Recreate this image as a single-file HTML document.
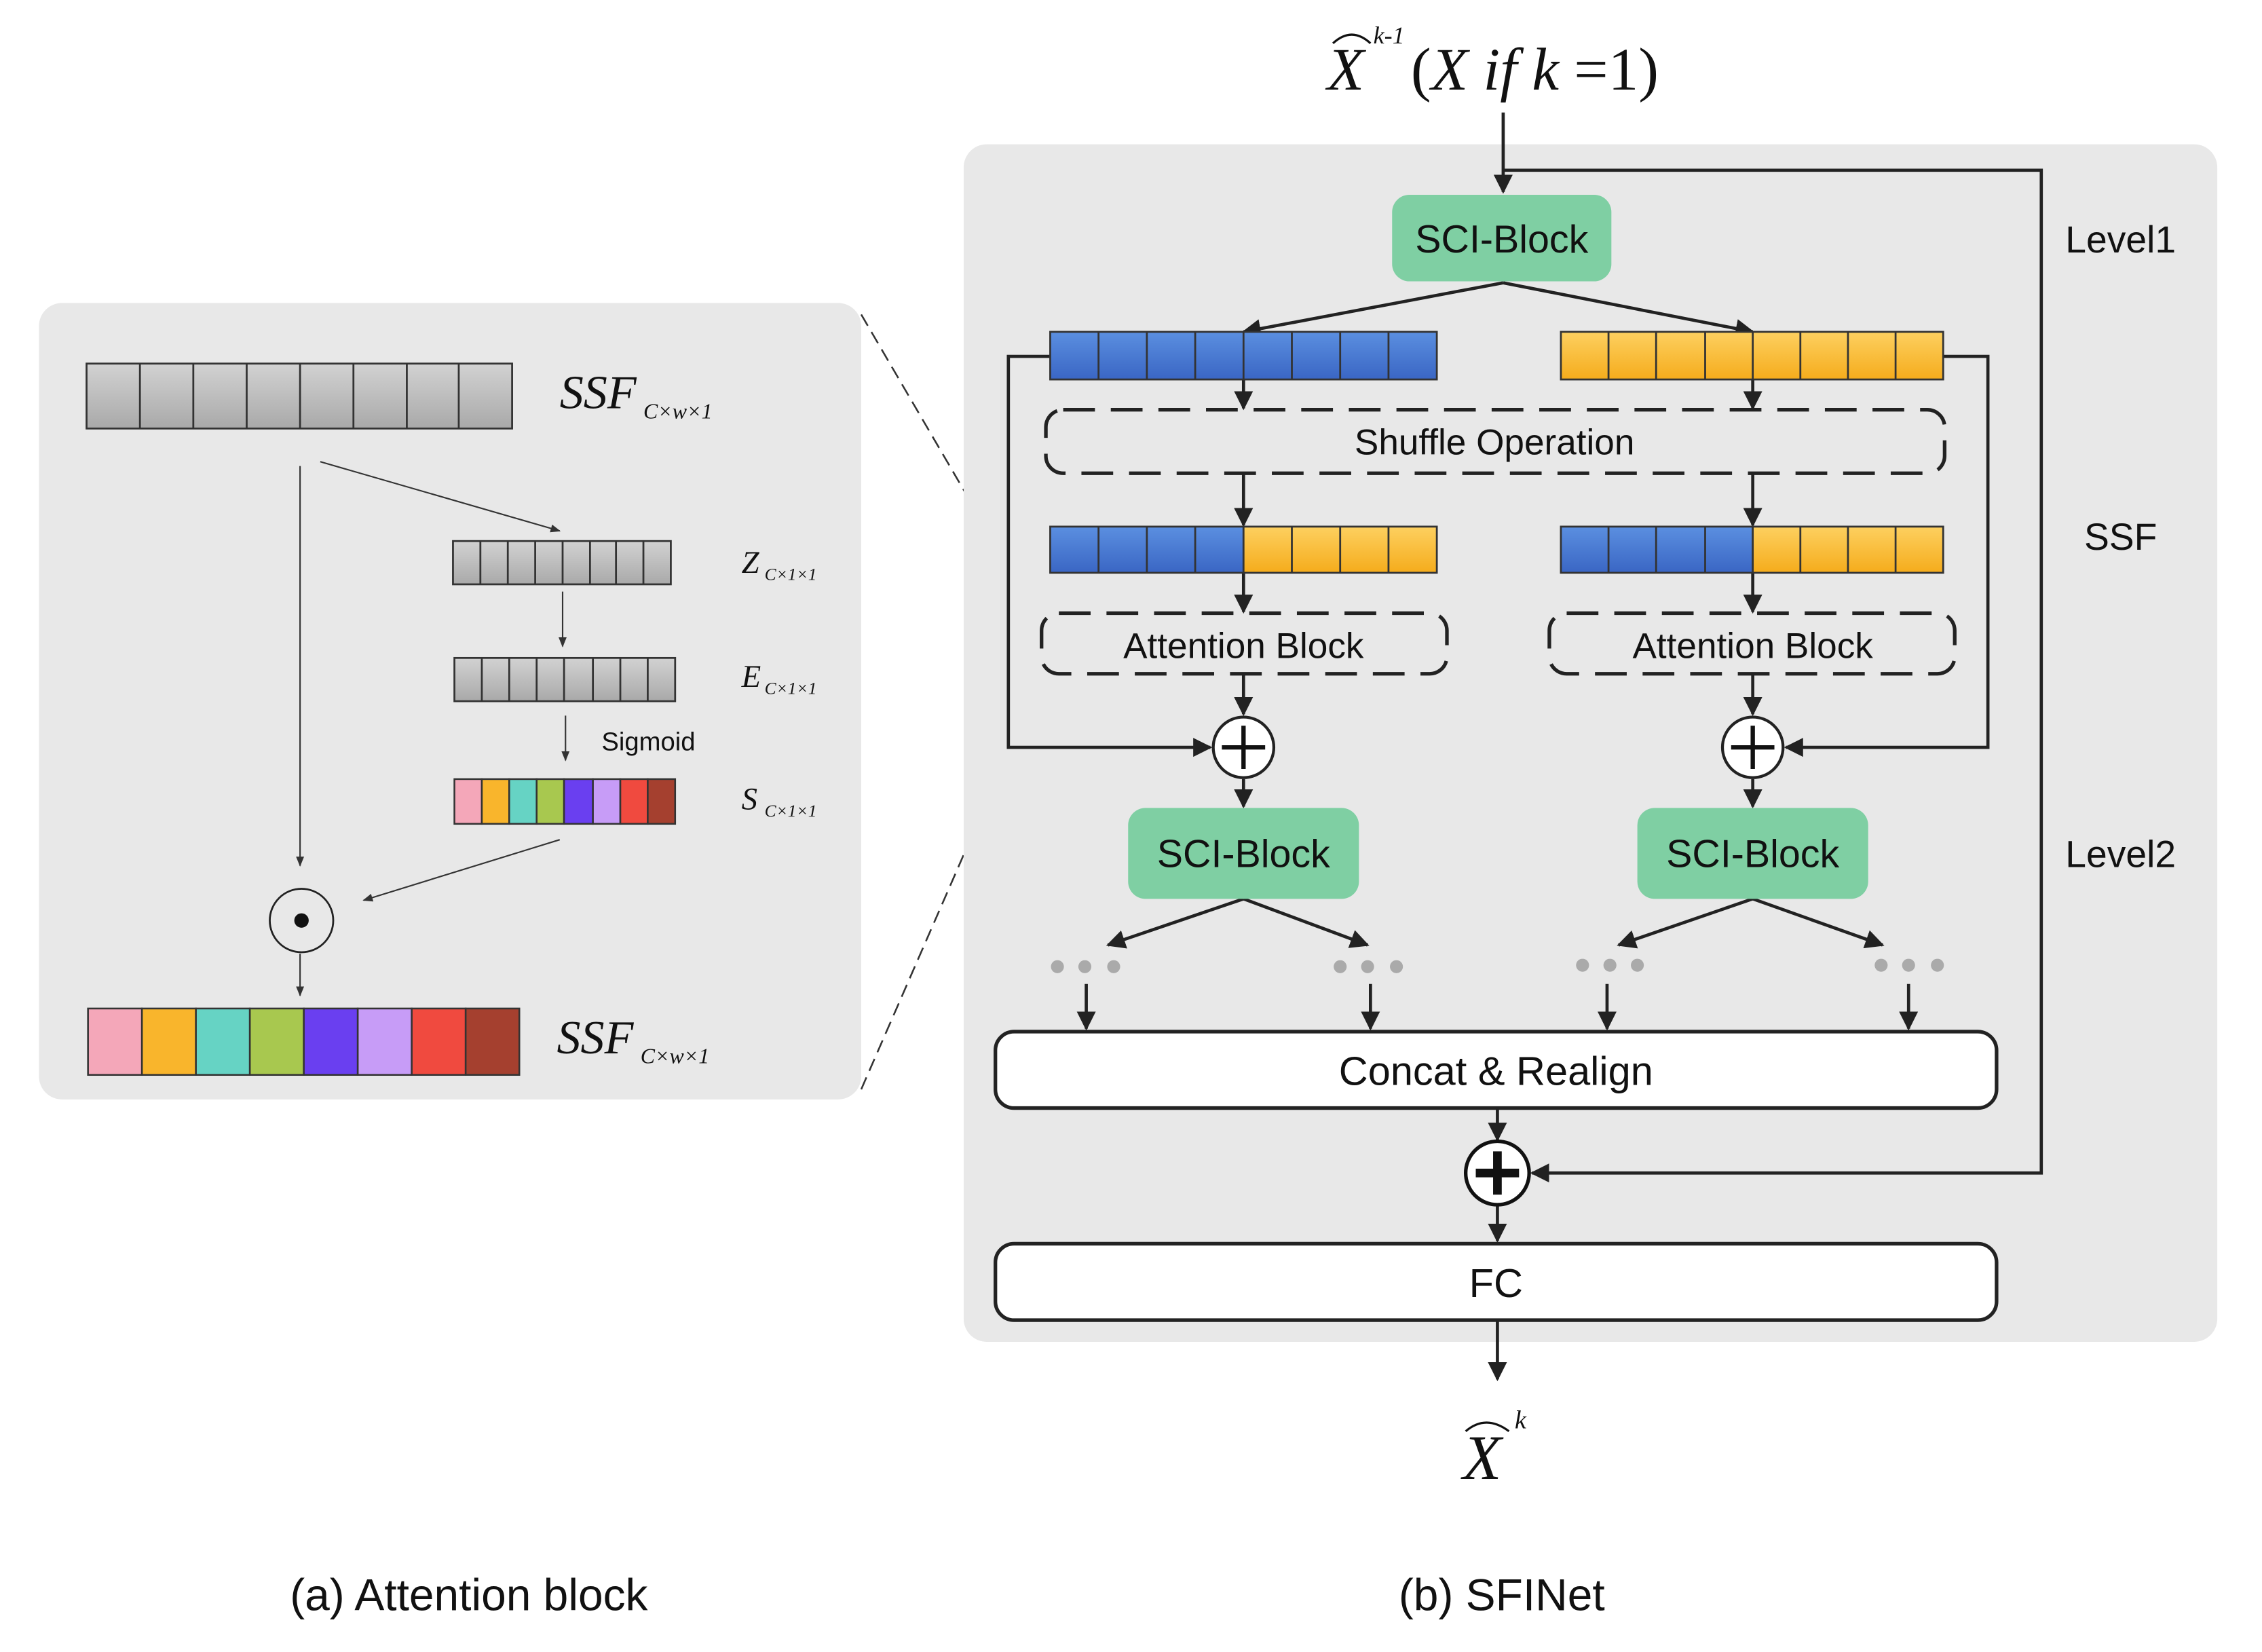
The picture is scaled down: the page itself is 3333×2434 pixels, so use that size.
<!DOCTYPE html>
<html><head><meta charset="utf-8"><style>html,body{margin:0;padding:0;background:#fff}svg{display:block}</style></head>
<body>
<svg width="3333" height="2434" viewBox="0 0 1568 1145" preserveAspectRatio="none" xmlns="http://www.w3.org/2000/svg">
<defs>
<linearGradient id="g" x1="0" y1="0" x2="0" y2="1"><stop offset="0" stop-color="#d2d2d2"/><stop offset="1" stop-color="#a9a9a9"/></linearGradient>
<linearGradient id="b" x1="0" y1="0" x2="0" y2="1"><stop offset="0" stop-color="#5b8fe0"/><stop offset="1" stop-color="#3a66c4"/></linearGradient>
<linearGradient id="y" x1="0" y1="0" x2="0" y2="1"><stop offset="0" stop-color="#fdd060"/><stop offset="1" stop-color="#f5ac1c"/></linearGradient>
<marker id="a" viewBox="0 0 10 10" refX="9" refY="5" markerWidth="6" markerHeight="6" orient="auto"><path d="M0,0L10,5L0,10z" fill="#222"/></marker>
<marker id="as" viewBox="0 0 10 10" refX="9" refY="5" markerWidth="7" markerHeight="7" orient="auto"><path d="M0,1L10,5L0,9z" fill="#333"/></marker>
</defs>
<g font-family="Liberation Sans, sans-serif" fill="#111">
<rect x="27" y="210" width="570" height="552" rx="16" fill="#e8e8e8"/>
<g stroke="#333" stroke-width="1.3">
<rect x="60" y="252" width="295" height="45" fill="url(#g)"/>
<path d="M97,252v45M134,252v45M171,252v45M208,252v45M245,252v45M282,252v45M318,252v45"/>
<rect x="314" y="375" width="151" height="30" fill="url(#g)"/>
<path d="M333,375v30M352,375v30M371,375v30M390,375v30M409,375v30M427,375v30M446,375v30"/>
<rect x="315" y="456" width="153" height="30" fill="url(#g)"/>
<path d="M334,456v30M353,456v30M372,456v30M391,456v30M411,456v30M430,456v30M449,456v30"/>
</g>
<g stroke="#333" stroke-width="1.2">
<rect x="315" y="540" width="19" height="31" fill="#f4a7b9"/><rect x="334" y="540" width="19" height="31" fill="#f9b52c"/><rect x="353" y="540" width="19" height="31" fill="#66d3c4"/><rect x="372" y="540" width="19" height="31" fill="#a8c84f"/><rect x="391" y="540" width="20" height="31" fill="#6a3ff0"/><rect x="411" y="540" width="19" height="31" fill="#c79cf7"/><rect x="430" y="540" width="19" height="31" fill="#f04a3f"/><rect x="449" y="540" width="19" height="31" fill="#a5402f"/>
<rect x="61" y="699" width="37.4" height="46" fill="#f4a7b9"/><rect x="98.4" y="699" width="37.4" height="46" fill="#f9b52c"/><rect x="135.8" y="699" width="37.4" height="46" fill="#66d3c4"/><rect x="173.2" y="699" width="37.4" height="46" fill="#a8c84f"/><rect x="210.6" y="699" width="37.4" height="46" fill="#6a3ff0"/><rect x="248" y="699" width="37.4" height="46" fill="#c79cf7"/><rect x="285.4" y="699" width="37.4" height="46" fill="#f04a3f"/><rect x="322.8" y="699" width="37.2" height="46" fill="#a5402f"/>
</g>
<g stroke="#333" stroke-width="1" fill="none" marker-end="url(#as)">
<path d="M208,323V600"/><path d="M222,320L388,368"/><path d="M390,410V448"/><path d="M392,496V527"/><path d="M388,582L252,624"/><path d="M208,661V690"/>
</g>
<circle cx="209" cy="638" r="22" fill="none" stroke="#222" stroke-width="1.3"/><circle cx="209" cy="638" r="5" fill="#111"/>
<g font-family="Liberation Serif, serif" font-style="italic">
<text x="388" y="283" font-size="33">SSF</text><text x="446" y="290" font-size="15">C×w×1</text>
<text x="386" y="730" font-size="33">SSF</text><text x="444" y="737" font-size="15">C×w×1</text>
<text x="514" y="397" font-size="22">Z</text><text x="530" y="402" font-size="12">C×1×1</text>
<text x="514" y="476" font-size="22">E</text><text x="530" y="481" font-size="12">C×1×1</text>
<text x="514" y="561" font-size="22">S</text><text x="530" y="566" font-size="12">C×1×1</text>
</g>
<text x="417" y="520" font-size="18">Sigmoid</text>
<path d="M597,218L722,432M597,755L725,462" stroke="#333" stroke-width="1.2" stroke-dasharray="9,5" fill="none"/>

<rect x="668" y="100" width="869" height="830" rx="16" fill="#e8e8e8"/>
<g font-family="Liberation Serif, serif" font-style="italic">
<text x="920" y="62" font-size="42">X</text><path d="M924,30Q937,18 950,30" stroke="#111" stroke-width="1.5" fill="none"/><text x="952" y="30" font-size="17">k-1</text>
<text x="978" y="62" font-size="42"><tspan font-style="normal">(</tspan>X if k <tspan font-style="normal">=1)</tspan></text>
<text x="1014" y="1025" font-size="44">X</text><path d="M1016,992Q1030,980 1046,992" stroke="#111" stroke-width="1.5" fill="none"/><text x="1050" y="990" font-size="18">k</text>
</g>
<g stroke="#222" stroke-width="2.2" fill="none">
<path d="M1042,78V133" marker-end="url(#a)"/>
<path d="M1042,118H1415V813H1062" marker-end="url(#a)"/>
<path d="M1042,196L862,230" marker-end="url(#a)"/><path d="M1042,196L1215,230" marker-end="url(#a)"/>
<path d="M862,263V283" marker-end="url(#a)"/><path d="M1215,263V283" marker-end="url(#a)"/>
<path d="M862,328V364" marker-end="url(#a)"/><path d="M1215,328V364" marker-end="url(#a)"/>
<path d="M862,397V424" marker-end="url(#a)"/><path d="M1215,397V424" marker-end="url(#a)"/>
<path d="M862,467V495" marker-end="url(#a)"/><path d="M1215,467V495" marker-end="url(#a)"/>
<path d="M728,247H699V518H839" marker-end="url(#a)"/><path d="M1347,247H1378V518H1238" marker-end="url(#a)"/>
<path d="M862,540V559" marker-end="url(#a)"/><path d="M1215,540V559" marker-end="url(#a)"/>
<path d="M862,623L768,655" marker-end="url(#a)"/><path d="M862,623L948,655" marker-end="url(#a)"/>
<path d="M1215,623L1122,655" marker-end="url(#a)"/><path d="M1215,623L1305,655" marker-end="url(#a)"/>
<path d="M753,682V713" marker-end="url(#a)"/><path d="M950,682V713" marker-end="url(#a)"/><path d="M1114,682V713" marker-end="url(#a)"/><path d="M1323,682V713" marker-end="url(#a)"/>
<path d="M1038,768V790" marker-end="url(#a)"/><path d="M1038,835V860" marker-end="url(#a)"/><path d="M1038,915V956" marker-end="url(#a)"/>
</g>
<rect x="965" y="135" width="152" height="60" rx="12" fill="#7fcfa3"/>
<rect x="782" y="560" width="160" height="63" rx="12" fill="#7fcfa3"/>
<rect x="1135" y="560" width="160" height="63" rx="12" fill="#7fcfa3"/>
<g font-size="27" text-anchor="middle"><text x="1041" y="175">SCI-Block</text><text x="862" y="601">SCI-Block</text><text x="1215" y="601">SCI-Block</text></g>
<g stroke="#333" stroke-width="1.3">
<rect x="728" y="230" width="268" height="33" fill="url(#b)"/>
<rect x="1082" y="230" width="265" height="33" fill="url(#y)"/>
<rect x="728" y="365" width="134" height="32" fill="url(#b)"/><rect x="862" y="365" width="134" height="32" fill="url(#y)"/>
<rect x="1082" y="365" width="133" height="32" fill="url(#b)"/><rect x="1215" y="365" width="132" height="32" fill="url(#y)"/>
<path d="M761.5,230v33M795,230v33M828.5,230v33M862,230v33M895.5,230v33M929,230v33M962.5,230v33"/>
<path d="M1115,230v33M1148,230v33M1182,230v33M1215,230v33M1248,230v33M1281,230v33M1314,230v33"/>
<path d="M761.5,365v32M795,365v32M828.5,365v32M895.5,365v32M929,365v32M962.5,365v32"/>
<path d="M1115,365v32M1148,365v32M1182,365v32M1248,365v32M1281,365v32M1314,365v32"/>
</g>
<g stroke="#222" stroke-width="2.5" fill="none" stroke-dasharray="22,11">
<rect x="725" y="284" width="623" height="44" rx="12"/>
<rect x="722" y="425" width="281" height="42" rx="12"/>
<rect x="1074" y="425" width="281" height="42" rx="12"/>
</g>
<g font-size="25" text-anchor="middle"><text x="1036" y="315">Shuffle Operation</text><text x="862" y="456">Attention Block</text><text x="1215" y="456">Attention Block</text></g>
<g stroke="#222" stroke-width="2" fill="#fff">
<circle cx="862" cy="518" r="21"/><circle cx="1215" cy="518" r="21"/>
</g>
<path d="M862,503V533M847,518H877M1215,503V533M1200,518H1230" stroke="#111" stroke-width="3"/>
<g fill="#aaa"><circle cx="733" cy="670" r="4.5"/><circle cx="752" cy="670" r="4.5"/><circle cx="772" cy="670" r="4.5"/><circle cx="929" cy="670" r="4.5"/><circle cx="948" cy="670" r="4.5"/><circle cx="968" cy="670" r="4.5"/><circle cx="1097" cy="669" r="4.5"/><circle cx="1116" cy="669" r="4.5"/><circle cx="1135" cy="669" r="4.5"/><circle cx="1304" cy="669" r="4.5"/><circle cx="1323" cy="669" r="4.5"/><circle cx="1343" cy="669" r="4.5"/></g>
<rect x="690" y="715" width="694" height="53" rx="13" fill="#fff" stroke="#222" stroke-width="2.5"/>
<rect x="690" y="862" width="694" height="53" rx="13" fill="#fff" stroke="#222" stroke-width="2.5"/>
<g font-size="28" text-anchor="middle"><text x="1037" y="752">Concat &amp; Realign</text><text x="1037" y="899">FC</text></g>
<circle cx="1038" cy="813" r="22" fill="#fff" stroke="#111" stroke-width="2.5"/>
<path d="M1038,798V828M1023,813H1053" stroke="#111" stroke-width="6"/>
<g font-size="26" text-anchor="middle"><text x="1470" y="175">Level1</text><text x="1470" y="381">SSF</text><text x="1470" y="601">Level2</text></g>
<g font-size="31" text-anchor="middle"><text x="325" y="1116">(a) Attention block</text><text x="1041" y="1116">(b) SFINet</text></g>
</g>
</svg>
</body></html>
